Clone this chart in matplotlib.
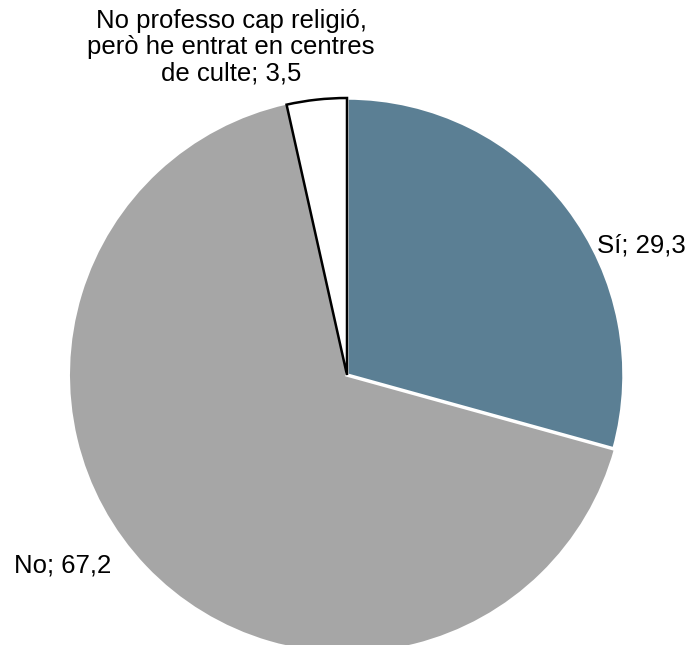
import matplotlib.pyplot as plt

plt.rcParams['font.family'] = ['Liberation Sans', 'DejaVu Sans']

labels = ['Sí', 'No', 'No professo cap religió,\nperò he entrat en centres\nde culte']
values = [29.3, 67.2, 3.5]
colors = ['#5B7F94', '#A6A6A6', '#FFFFFF']
value_text = ['29,3', '67,2', '3,5']

fig = plt.figure(figsize=(6.93, 6.45), dpi=100)
ax = fig.add_axes([0, 0, 1, 1])

wedges, _ = ax.pie(values, colors=colors, startangle=90, counterclock=False,
                   center=(347, 270), radius=277, frame=True)
ax.set_xlim(0, 693)
ax.set_ylim(0, 645)
ax.set_aspect('equal')
ax.axis('off')

# white gap between Sí and No, black outline round the small slice
wedges[0].set_edgecolor('white')
wedges[0].set_linewidth(2.5)
wedges[0].set_zorder(2)
wedges[1].set_edgecolor('none')
wedges[1].set_zorder(1)
wedges[2].set_edgecolor('black')
wedges[2].set_linewidth(1.8)
wedges[2].set_zorder(3)

fs = 18.5
ax.text(597, 400, labels[0] + '; ' + value_text[0], fontsize=fs, ha='left', va='center')
ax.text(14, 80, labels[1] + '; ' + value_text[1], fontsize=fs, ha='left', va='center')
ax.text(231, 598, labels[2] + '; ' + value_text[2], fontsize=fs, ha='center', va='center',
        linespacing=1.12)

fig.savefig('out.png', dpi=100)
